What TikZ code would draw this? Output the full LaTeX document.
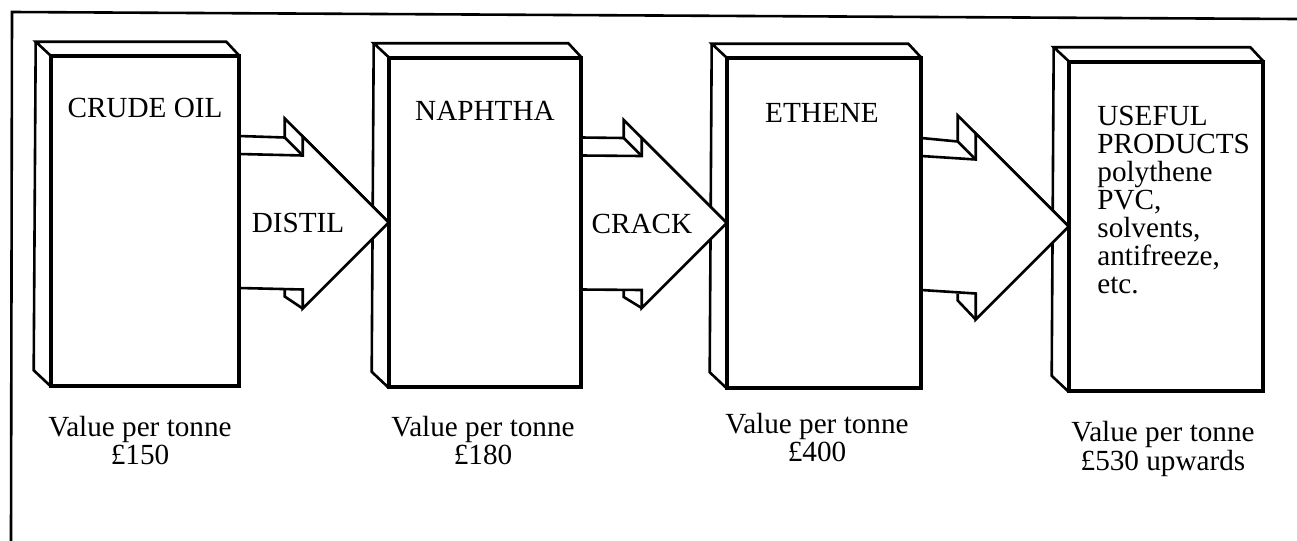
\documentclass[tikz,border=0pt]{standalone}
\usepackage{fontspec}
\setmainfont{Liberation Serif}
\usetikzlibrary{calc}
\begin{document}
\begin{tikzpicture}[x=0.5pt,y=-0.5pt,
  ln/.style={line width=1.3pt, line join=miter},
  box/.style={ln, draw, minimum height=164pt, inner sep=0pt},
  lbl/.style={font=\fontsize{14.6}{12}\selectfont, inner sep=0pt},
]
\useasboundingbox (0,0) rectangle (1297,541);
% frame
\draw[ln] (1297,19) -- (12,12) -- (11,541);
% boxes (front faces)
\node[box, minimum width=93pt] (b1) at (145,221) {};
\node[box, minimum width=95pt] (b2) at (485,222.5) {};
\node[box, minimum width=96pt] (b3) at (824,223) {};
\node[box, minimum width=96pt] (b4) at (1166,226.5) {};
% 3D top and left faces
\foreach \b in {b1,b2,b3,b4} {
  \draw[ln] (\b.north west) -- ++(-15,-14) -- ($(\b.north east)+(-13,-14)$) -- (\b.north east);
  \draw[ln] ($(\b.north west)+(-15,-14)$) -- ($(\b.south west)+(-17,-16)$) -- (\b.south west);
}
% block arrows: from, to, head length
\foreach \f/\t/\k in {b1/b2/86, b2/b3/85, b3/b4/93} {
  \coordinate (s) at (\f.east);
  \coordinate (t) at (\t.west);
  \pgfmathsetmacro\kb{\k+18}
  % back parts
  \draw[ln] ($(s)+(0,-85)$) -- ($(t)+(-\kb,-85)$) -- ($(t)+(-\kb,-\kb)$) -- (t);
  \draw[ln] ($(t)+(-\kb,-85)$) -- ($(t)+(-\k,-67)$);
  \draw[ln] ($(t)+(-\kb,67)$) -- ($(t)+(-\kb,74)$) -- ($(t)+(-\k,\k)$);
  % front face
  \draw[ln, fill=white] ($(s)+(0,-67)$) -- ($(t)+(-\k,-67)$) -- ($(t)+(-\k,-\k)$) -- (t)
     -- ($(t)+(-\k,\k)$) -- ($(t)+(-\k,67)$) -- ($(s)+(0,67)$);
}
% redraw front faces on top
\foreach \b in {b1,b2,b3,b4} {
  \draw[ln] (\b.north west) rectangle (\b.south east);
}
% labels in boxes
\node[lbl, anchor=base] (n1) at (145,117) {CRUDE OIL};
\node[lbl, anchor=base] (n2) at (485,120) {NAPHTHA};
\node[lbl, anchor=base] (n3) at (822,122) {ETHENE};
\node[lbl, anchor=north west, align=left, font=\fontsize{14.6}{14}\selectfont] (n4) at (1097,106)
  {USEFUL\\PRODUCTS\\polythene\\PVC,\\solvents,\\antifreeze,\\etc.};
% arrow labels
\node[lbl, anchor=base] (d1) at (298,232) {DISTIL};
\node[lbl, anchor=base] (d2) at (642,233) {CRACK};
% values
\node[lbl, anchor=north, align=center] (v1) at (140,416) {Value per tonne\\£150};
\node[lbl, anchor=north, align=center] (v2) at (483,416) {Value per tonne\\£180};
\node[lbl, anchor=north, align=center] (v3) at (817,413) {Value per tonne\\£400};
\node[lbl, anchor=north, align=center] (v4) at (1163,421) {Value per tonne\\£530 upwards};
\end{tikzpicture}
\end{document}
